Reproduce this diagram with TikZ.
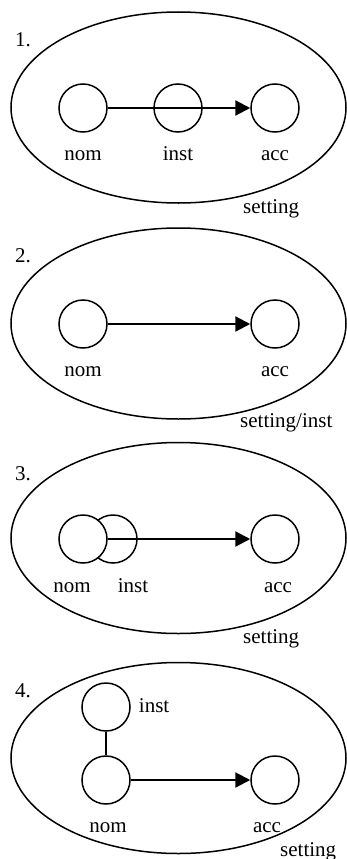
\documentclass[tikz,border=0pt]{standalone}
\usepackage{fontspec}
\setmainfont{Liberation Serif}
\usetikzlibrary{positioning,shapes.geometric,arrows.meta}

\begin{document}
\begin{tikzpicture}[
  x=1pt, y=-1pt,
  font=\fontsize{21}{25}\selectfont,
  scene/.style={draw, ellipse, line width=1.5pt, minimum width=335pt, minimum height=191pt, inner sep=0pt},
  role/.style={draw, circle, fill=white, line width=1.5pt, minimum size=48pt, inner sep=0pt},
  rel/.style={-{Triangle[length=15pt,width=15pt]}, line width=2.2pt},
  link/.style={line width=1.5pt},
  tag/.style={inner sep=0pt, text height=14pt, text depth=4pt}
]
\useasboundingbox (0,0) rectangle (347,859);

% 1.
\node[scene] (s1) at (178.5,107.5) {};
\node[tag, anchor=base west] (no1) at (15,47) {1.};
\node[role] (nom1) at (83,108) {};
\node[role] (inst1) at (178,108) {};
\node[role] (acc1) at (275,108) {};
\node[tag, below=14pt of nom1] (lnom1) {nom};
\node[tag, below=14pt of inst1] (linst1) {inst};
\node[tag, below=14pt of acc1] (lacc1) {acc};
\node[tag, anchor=base west] (set1) at (243,213) {setting};
\draw[rel] (nom1) -- (acc1);

% 2.
\node[scene] (s2) at (178.5,323.5) {};
\node[tag, anchor=base west] (no2) at (15,262) {2.};
\node[role] (nom2) at (83,324) {};
\node[role] (acc2) at (275,324) {};
\node[tag, below=14pt of nom2] (lnom2) {nom};
\node[tag, below=14pt of acc2] (lacc2) {acc};
\node[tag, anchor=base west] (set2) at (240,427.5) {setting/inst};
\draw[rel] (nom2) -- (acc2);

% 3.
\node[scene] (s3) at (178.5,538) {};
\node[tag, anchor=base west] (no3) at (15,480) {3.};
\node[role] (inst3) at (113,539) {};
\node[role] (nom3) at (83,539) {};
\node[role] (acc3) at (275,539) {};
\node[tag, below=15pt of nom3, xshift=-11pt] (lnom3) {nom};
\node[tag, below=15pt of inst3, xshift=20pt] (linst3) {inst};
\node[tag, below=15pt of acc3, xshift=3pt] (lacc3) {acc};
\node[tag, anchor=base west] (set3) at (243,643) {setting};
\draw[rel] (nom3) -- (acc3);

% 4.
\node[scene] (s4) at (178.5,758) {};
\node[tag, anchor=base west] (no4) at (15,697) {4.};
\node[role] (inst4) at (106,707) {};
\node[role] (nom4) at (106,780) {};
\node[role] (acc4) at (275,780) {};
\node[tag, right=8pt of inst4] (linst4) {inst};
\node[tag, below=14pt of nom4, xshift=2pt] (lnom4) {nom};
\node[tag, below=14pt of acc4, xshift=-8pt] (lacc4) {acc};
\node[tag, anchor=base west] (set4) at (280,856) {setting};
\draw[link] (inst4) -- (nom4);
\draw[rel] (nom4) -- (acc4);
\end{tikzpicture}
\end{document}
